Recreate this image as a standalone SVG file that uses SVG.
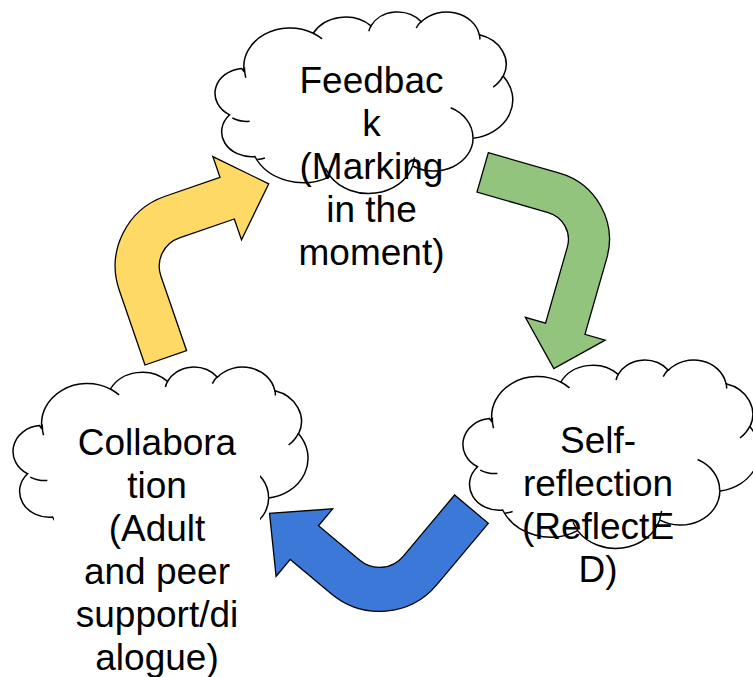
<svg xmlns="http://www.w3.org/2000/svg" xmlns:xlink="http://www.w3.org/1999/xlink" width="753" height="677" viewBox="0 0 753 677">
  <style>
    .cloud-body { fill: #ffffff; stroke: #000000; stroke-width: 1.5; vector-effect: non-scaling-stroke; }
    .cloud-crease { fill: none; stroke: #000000; stroke-width: 1.5; vector-effect: non-scaling-stroke; }
    .label { font-family: "Liberation Sans", Arial, sans-serif; font-size: 37px; fill: #000000; text-anchor: middle; }
    .arrow { stroke: #000000; stroke-width: 1.3; stroke-linejoin: miter; }
    .cycle-yellow { fill: #FFD966; }
    .cycle-green { fill: #93C47D; }
    .cycle-blue { fill: #3C78D8; }
  </style>
  <defs>
    <!-- cloud outline on a 432 x 432 frame, scaled per node -->
    <g id="cloud">
      <path class="cloud-body" d="M39.00 143.70 A67.53 91.90 0 0 1 140.05 52.02 A53.33 72.67 0 0 1 224.56 34.32 A43.65 59.45 0 0 1 298.33 24.81 A48.57 65.95 0 0 1 383.19 55.76 A53.33 72.73 0 0 1 418.19 154.59 A67.75 92.20 0 0 1 374.05 302.03 A57.85 78.67 0 0 1 285.57 368.13 A67.52 92.15 0 0 1 164.81 392.64 A77.20 105.43 0 0 1 54.60 345.43 A43.60 59.18 0 0 1 17.69 246.21 A43.45 59.45 0 0 1 35.19 135.77 Z"/>
      <path class="cloud-crease" d="M46.93 261.77 A43.45 59.45 0 0 1 21.60 253.80 M69.28 348.99 A43.60 59.18 0 0 1 58.20 352.81 M164.78 390.90 A67.52 92.15 0 0 1 158.10 373.50 M288.27 347.51 A67.52 92.15 0 0 1 285.60 366.60 M341.29 229.54 A57.85 78.67 0 0 1 373.81 300.90 M417.98 153.54 A53.33 72.73 0 0 1 403.50 180.30 M383.24 54.26 A48.57 65.95 0 0 1 384.00 66.90 M290.78 39.52 A48.57 65.95 0 0 1 298.20 23.40 M221.41 47.20 A43.65 59.45 0 0 1 225.00 33.30 M140.00 51.92 A67.53 91.90 0 0 1 153.00 65.41 M41.27 157.89 A67.53 91.90 0 0 1 39.47 133.41"/>
    </g>
  </defs>

  <rect width="753" height="677" fill="#ffffff"/>

  <!-- cycle arrows -->
  <g id="connectors">
    <path id="arrow-collab-to-feedback" class="arrow cycle-yellow" transform="translate(145,365) rotate(-19)"
          d="M0 0 L0 -79 A74 74 0 0 1 74 -153 L132 -153 L132 -175 L176 -131 L132 -87 L132 -109 L74 -109 A30 30 0 0 0 44 -79 L44 0 Z"/>
    <path id="arrow-feedback-to-self" class="arrow cycle-green" transform="translate(488.3,152.7) rotate(16)"
          d="M0 0 L74 0 A69 69 0 0 1 143 69 L143 148 L164 148 L122.5 189.5 L81 148 L102 148 L102 69 A28 28 0 0 0 74 41 L0 41 Z"/>
    <path id="arrow-self-to-collab" class="arrow cycle-blue" transform="translate(488.3,523.3) rotate(40)"
          d="M0 0 L0 80 A75 75 0 0 1 -75 155 L-128.5 155 L-128.5 177 L-174 133 L-128.5 89 L-128.5 111 L-75 111 A31 31 0 0 0 -44 80 L-44 0 Z"/>
  </g>

  <g id="node-feedback">
    <use xlink:href="#cloud" href="#cloud" transform="translate(217.6,11.4) scale(0.683,0.42)"/>
    <text class="label"><tspan x="371.5" y="93.3">Feedbac</tspan><tspan x="371.5" y="136.2">k</tspan><tspan x="371.5" y="179.1">(Marking</tspan><tspan x="371.5" y="222">in the</tspan><tspan x="371.5" y="264.9">moment)</tspan></text>
  </g>

  <g id="node-self-reflection">
    <use xlink:href="#cloud" href="#cloud" transform="translate(465.5,359.4) scale(0.68,0.436)"/>
    <text class="label"><tspan x="598" y="453.3">Self-</tspan><tspan x="598" y="496.2">reflection</tspan><tspan x="598" y="539.1">(ReflectE</tspan><tspan x="598" y="582">D)</tspan></text>
  </g>

  <g id="node-collaboration">
    <use xlink:href="#cloud" href="#cloud" transform="translate(15.6,366.4) scale(0.6766,0.436)"/>
    <!-- filled text box over the lower part of the cloud -->
    <rect x="54" y="415" width="206" height="262" fill="#ffffff"/>
    <text class="label"><tspan x="157" y="455">Collabora</tspan><tspan x="157" y="497.9">tion</tspan><tspan x="157" y="540.8">(Adult</tspan><tspan x="157" y="583.7">and peer</tspan><tspan x="157" y="626.6">support/di</tspan><tspan x="157" y="669.5">alogue)</tspan></text>
  </g>
</svg>
